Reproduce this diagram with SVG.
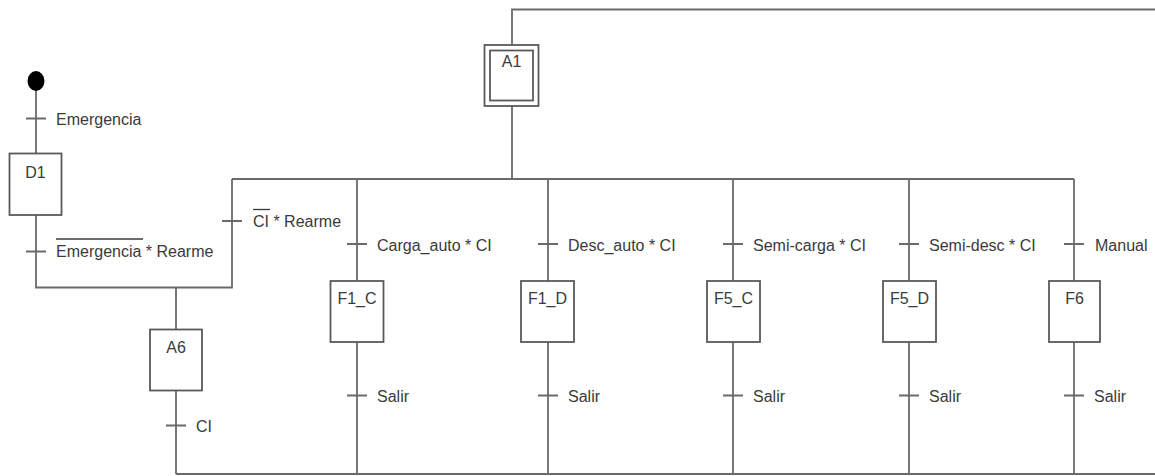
<svg xmlns="http://www.w3.org/2000/svg" width="1155" height="476" viewBox="0 0 1155 476">
<style>
.ln{stroke:#6a6a6a;stroke-width:1.8;fill:none}
.bx{stroke:#5a5a5a;stroke-width:1.8;fill:#fff}
.t{font-family:"Liberation Sans",Arial,sans-serif;font-size:16px;fill:#3a3a3a}
.c{text-anchor:middle}
.ov{stroke:#3a3a3a;stroke-width:1.3}
</style>
<rect width="1155" height="476" fill="#fff"/>
<g id="connectors">
<path class="ln" d="M36 88V153.5M36 215V287.5H232V179M176 287.5V329.5M176 390.5V474M176 474H1155"/>
<path class="ln" d="M512 45V9.5H1155M512 106V179M232 179H1074"/>
<path class="ln" d="M357 179V281M357 342V474M548 179V281M548 342V474M733 179V281M733 342V474M909 179V281M909 342V474M1074 179V281M1074 342V474"/>
<path class="ln" d="M26 118.5H46M26 251.5H46M222 221H242M166 425.5H186M347 244H367M538 244H558M723 244H743M899 244H919M1064 244H1084M347 395.5H367M538 395.5H558M723 395.5H743M899 395.5H919M1064 395.5H1084"/>
</g>
<g id="init"><ellipse cx="36" cy="81" rx="8.5" ry="10" fill="#000"/></g>
<g id="t-emerg"><text class="t" x="56" y="125">Emergencia</text></g>
<g id="D1"><rect class="bx" x="9.5" y="153.5" width="52" height="61.5"/><text class="t c" x="35.5" y="178">D1</text></g>
<g id="t-nemerg"><line class="ov" x1="56" y1="239" x2="143" y2="239"/><text class="t" x="56" y="257">Emergencia * Rearme</text></g>
<g id="t-ncirearme"><line class="ov" x1="253" y1="209.5" x2="270" y2="209.5"/><text class="t" x="253" y="227">CI * Rearme</text></g>
<g id="A6"><rect class="bx" x="150" y="329.5" width="52" height="61"/><text class="t c" x="176" y="353">A6</text></g>
<g id="t-ci"><text class="t" x="196" y="431.5">CI</text></g>
<g id="A1"><rect class="bx" x="484.5" y="45" width="54" height="61"/><rect class="bx" x="490" y="50.5" width="43" height="50"/><text class="t c" x="511.5" y="66.5">A1</text></g>
<g id="F1_C"><rect class="bx" x="330.5" y="281" width="53" height="61"/><text class="t c" x="357" y="304">F1_C</text></g>
<g id="F1_D"><rect class="bx" x="521" y="281" width="53" height="61"/><text class="t c" x="547.5" y="304">F1_D</text></g>
<g id="F5_C"><rect class="bx" x="707" y="281" width="53" height="61"/><text class="t c" x="733.5" y="304">F5_C</text></g>
<g id="F5_D"><rect class="bx" x="883" y="281" width="53" height="61"/><text class="t c" x="909.5" y="304">F5_D</text></g>
<g id="F6"><rect class="bx" x="1049" y="281" width="51" height="61"/><text class="t c" x="1074.5" y="304">F6</text></g>
<g id="labels">
<text class="t" x="377" y="251">Carga_auto * CI</text>
<text class="t" x="568" y="251">Desc_auto * CI</text>
<text class="t" x="753" y="251">Semi-carga * CI</text>
<text class="t" x="929" y="251">Semi-desc * CI</text>
<text class="t" x="1095" y="251">Manual</text>
<text class="t" x="377" y="402">Salir</text>
<text class="t" x="568" y="402">Salir</text>
<text class="t" x="753" y="402">Salir</text>
<text class="t" x="929" y="402">Salir</text>
<text class="t" x="1094" y="402">Salir</text>
</g>
</svg>
